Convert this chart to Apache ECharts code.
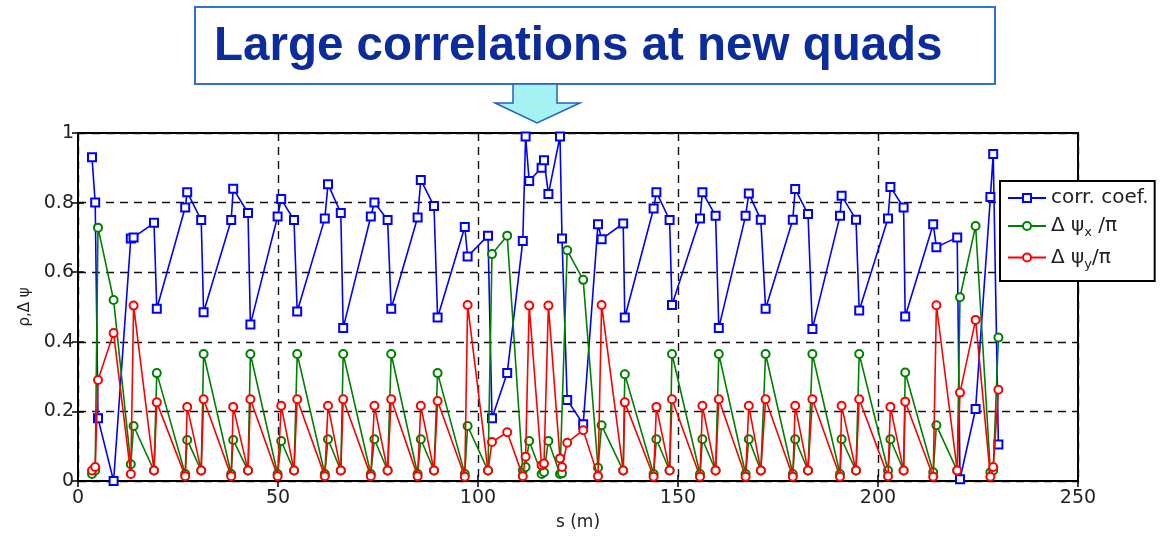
<!DOCTYPE html>
<html>
<head>
<meta charset="utf-8">
<script src="https://cdn.jsdelivr.net/npm/echarts@6/dist/echarts.min.js"></script>
<style>
html,body{margin:0;padding:0;background:#fff;}
#chart{width:1171px;height:537px;}
</style>
</head>
<body>
<div id="chart"></div>
<script>
// Positions along the beamline, s (m)
const sPos = [3.5, 4.3, 5.0, 8.9, 13.2, 13.9, 19.0, 19.7,
  26.8, 27.3, 30.8, 31.4, 38.3, 38.8, 42.5, 43.1,
  49.9, 50.8, 54.0, 54.8, 61.7, 62.5, 65.7, 66.3,
  73.2, 74.1, 77.4, 78.3, 84.9, 85.7, 89.0, 89.9,
  96.7, 97.4, 102.5, 103.5, 107.3, 111.2, 111.9, 112.8,
  115.9, 116.5, 117.6, 120.5, 121.0, 122.3, 126.3, 130.0,
  130.9, 136.3, 136.7, 143.9, 144.6, 147.9, 148.5,
  155.5, 156.1, 159.4, 160.2, 166.9, 167.7, 170.7, 171.9,
  178.7, 179.3, 182.5, 183.6, 190.5, 190.9, 194.5, 195.3,
  202.5, 203.1, 206.4, 206.8, 213.8, 214.6, 219.8, 220.5,
  224.4, 228.1, 228.8, 230.1];
// corr. coef.
const corrCoef = [0.93, 0.80, 0.18, 0.00, 0.697, 0.70, 0.742, 0.495,
  0.786, 0.83, 0.75, 0.485, 0.75, 0.84, 0.77, 0.45,
  0.76, 0.81, 0.75, 0.487, 0.754, 0.853, 0.77, 0.44,
  0.76, 0.80, 0.75, 0.495, 0.757, 0.865, 0.79, 0.47,
  0.73, 0.645, 0.705, 0.18, 0.31, 0.69, 0.99, 0.862,
  0.90, 0.922, 0.825, 0.99, 0.697, 0.233, 0.163, 0.738,
  0.695, 0.74, 0.47, 0.783, 0.83, 0.75, 0.506,
  0.754, 0.83, 0.762, 0.44, 0.762, 0.826, 0.751, 0.495,
  0.751, 0.839, 0.767, 0.437, 0.762, 0.82, 0.751, 0.49,
  0.754, 0.845, 0.786, 0.473, 0.738, 0.672, 0.70, 0.005,
  0.207, 0.816, 0.94, 0.105];
// Δψx/π
const dPsiX = [0.02, 0.03, 0.728, 0.52, 0.048, 0.158, 0.03, 0.31,
  0.02, 0.118, 0.03, 0.365, 0.02, 0.118, 0.03, 0.365,
  0.02, 0.115, 0.03, 0.365, 0.02, 0.12, 0.03, 0.365,
  0.02, 0.12, 0.03, 0.365, 0.02, 0.12, 0.03, 0.31,
  0.02, 0.158, 0.03, 0.652, 0.705, 0.03, 0.04, 0.115,
  0.02, 0.025, 0.115, 0.02, 0.022, 0.663, 0.578, 0.038,
  0.16, 0.03, 0.307, 0.02, 0.12, 0.03, 0.365,
  0.02, 0.12, 0.03, 0.365, 0.02, 0.12, 0.03, 0.365,
  0.02, 0.12, 0.03, 0.365, 0.02, 0.12, 0.03, 0.365,
  0.03, 0.12, 0.03, 0.312, 0.025, 0.16, 0.03, 0.528,
  0.733, 0.025, 0.03, 0.412];
// Δψy/π
const dPsiY = [0.03, 0.04, 0.29, 0.425, 0.02, 0.504, 0.03, 0.226,
  0.014, 0.213, 0.03, 0.235, 0.014, 0.213, 0.03, 0.235,
  0.014, 0.216, 0.03, 0.235, 0.014, 0.216, 0.03, 0.235,
  0.014, 0.216, 0.03, 0.235, 0.014, 0.216, 0.03, 0.23,
  0.012, 0.506, 0.03, 0.112, 0.14, 0.014, 0.07, 0.504,
  0.045, 0.05, 0.504, 0.065, 0.04, 0.11, 0.146, 0.014,
  0.506, 0.03, 0.226, 0.012, 0.213, 0.03, 0.235,
  0.012, 0.216, 0.03, 0.235, 0.012, 0.216, 0.03, 0.235,
  0.012, 0.216, 0.03, 0.235, 0.012, 0.216, 0.03, 0.235,
  0.014, 0.213, 0.03, 0.228, 0.012, 0.505, 0.03, 0.254,
  0.463, 0.012, 0.04, 0.262];

const xTicks = [0, 50, 100, 150, 200, 250];
const yTicks = [0, 0.2, 0.4, 0.6, 0.8, 1];
const seriesNames = ['corr. coef.', 'dpsix', 'dpsiy'];
const legendLabels = {
  'corr. coef.': 'corr. coef.',
  'dpsix': 'Δ ψ{sub|x} /π',
  'dpsiy': 'Δ ψ{sub|y}/π'
};

const chart = echarts.init(document.getElementById('chart'), null, {renderer: 'canvas'});
const FONT = 'DejaVu Sans';
const zip = (ys) => sPos.map((s, i) => [s, ys[i]]);

const splitLine = {show: true, lineStyle: {color: '#111', width: 1.4, type: [8, 6]}};
const option = {
  animation: false,
  backgroundColor: '#fff',
  grid: {left: 78, right: 93, top: 133, bottom: 56, show: true, borderColor: '#000', borderWidth: 2, backgroundColor: '#fff'},
  xAxis: [{
    type: 'value', min: xTicks[0], max: xTicks[xTicks.length - 1], interval: 50,
    name: 's (m)', nameLocation: 'middle', nameGap: 33,
    nameTextStyle: {fontFamily: FONT, fontSize: 17, color: '#222'},
    axisLine: {show: true, lineStyle: {color: '#000', width: 2}},
    axisTick: {show: true, inside: true, length: 6, lineStyle: {color: '#000', width: 1.5}},
    axisLabel: {fontFamily: FONT, fontSize: 19, color: '#222', margin: 8},
    splitLine: splitLine
  }, {
    type: 'value', min: xTicks[0], max: xTicks[xTicks.length - 1], interval: 50, position: 'top',
    axisLine: {show: true, lineStyle: {color: '#000', width: 2}},
    axisTick: {show: true, inside: true, length: 6, lineStyle: {color: '#000', width: 1.5}},
    axisLabel: {show: false}, splitLine: {show: false}
  }],
  yAxis: [{
    type: 'value', min: yTicks[0], max: yTicks[yTicks.length - 1], interval: 0.2,
    name: 'ρ,Δ ψ', nameLocation: 'middle', nameGap: 44, nameRotate: 90,
    nameTextStyle: {fontFamily: FONT, fontSize: 15, color: '#222'},
    axisLine: {show: true, lineStyle: {color: '#000', width: 2}},
    axisTick: {show: true, inside: true, length: 6, lineStyle: {color: '#000', width: 1.5}},
    axisLabel: {fontFamily: FONT, fontSize: 19, color: '#222', margin: 4,
      formatter: (v) => String(+v.toFixed(1))},
    splitLine: splitLine
  }, {
    type: 'value', min: yTicks[0], max: yTicks[yTicks.length - 1], interval: 0.2, position: 'right',
    axisLine: {show: true, lineStyle: {color: '#000', width: 2}},
    axisTick: {show: true, inside: true, length: 6, lineStyle: {color: '#000', width: 1.5}},
    axisLabel: {show: false}, splitLine: {show: false}
  }],
  legend: {
    orient: 'vertical', left: 1000, top: 181,
    backgroundColor: '#fff', borderColor: '#000', borderWidth: 2,
    padding: [7, 6, 10, 7], itemGap: 8, itemWidth: 38, itemHeight: 10,
    data: seriesNames,
    formatter: (n) => legendLabels[n],
    textStyle: {fontFamily: FONT, fontSize: 20, color: '#222',
      rich: {sub: {fontFamily: FONT, fontSize: 13, color: '#222', padding: [14, 0, 0, 0]}}}
  },
  graphic: [
    {type: 'rect', shape: {x: 195, y: 7, width: 800, height: 77},
     style: {fill: '#fff', stroke: '#2f6fe0', lineWidth: 2}, z: 100},
    {type: 'text', x: 214, y: 47, z: 101,
     style: {text: 'Large correlations at new quads', fill: '#0c2c9c',
       font: 'bold 47.5px "Liberation Sans", Arial, sans-serif', textVerticalAlign: 'middle'}},
    {type: 'polygon', z: 100,
     shape: {points: [[513, 84], [557, 84], [557, 103], [580, 103], [537, 123], [495, 103], [513, 103]]},
     style: {fill: '#a4f2f2', stroke: '#2060c8', lineWidth: 1.5}}
  ],
  series: [
    {name: 'corr. coef.', type: 'line', data: zip(corrCoef), symbol: 'emptyRect', symbolSize: 8,
     lineStyle: {color: '#0000ff', width: 1.6}, itemStyle: {color: '#0000ff', borderWidth: 1.5}, z: 3},
    {name: 'dpsix', type: 'line', data: zip(dPsiX), symbol: 'emptyCircle', symbolSize: 8,
     lineStyle: {color: '#008000', width: 1.6}, itemStyle: {color: '#008000', borderWidth: 1.5}, z: 4},
    {name: 'dpsiy', type: 'line', data: zip(dPsiY), symbol: 'emptyCircle', symbolSize: 8,
     lineStyle: {color: '#ff0000', width: 1.6}, itemStyle: {color: '#ff0000', borderWidth: 1.5}, z: 5}
  ]
};
chart.setOption(option);
</script>
</body>
</html>
